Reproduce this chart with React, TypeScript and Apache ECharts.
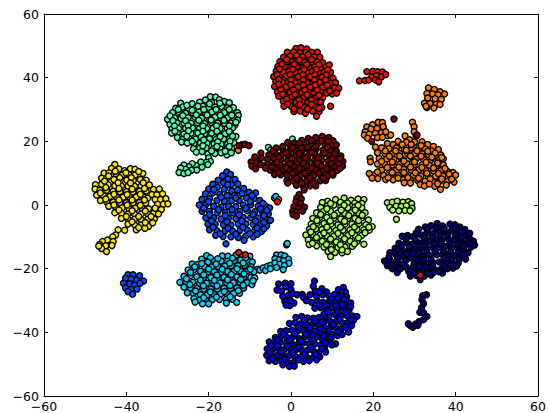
import React, { useEffect, useRef } from "react";
import * as echarts from "echarts";

type P = [number, number];

const navy: P[] = [
[35.5,-5.8],[34,-6.5],[32.6,-6.9],[31,-7.6],[30.4,-8.8],[36.8,-6.6],[38.6,-6],[39.8,-6.2],[41,-6.9],[42.2,-7.7],[43.4,-8.9],
[27,-9.8],[28.3,-9.6],[29.6,-10],[31.6,-9.4],[33,-8.6],[34.5,-9],[36,-8.3],[37.5,-8.6],[39,-8],[40.5,-8.7],[42,-9.6],[43.4,-10.6],[44.3,-11.4],
[26.2,-12],[27.8,-11.9],[29.2,-12.4],[30.7,-11.7],[32.2,-11.5],[33.7,-11.3],[35.2,-10.9],[36.7,-11],[38.2,-10.6],[39.7,-11],[41.2,-11.4],[42.7,-12],[44.6,-12.6],[43.7,-13.2],
[25.3,-13.6],[27,-14],[28.5,-14.6],[30,-14],[31.5,-13.8],[33,-13.7],[34.5,-13.4],[36,-13.3],[37.5,-13],[39,-13.4],[40.5,-13.5],[42,-14.2],[43,-15],
[24,-15],[25.6,-15.8],[27.2,-16.2],[29,-16.6],[30.7,-16.2],[32.3,-16],[33.8,-15.9],[35.4,-15.6],[36.8,-15.6],[38.3,-15.6],[39.8,-15.9],[41.2,-16.2],[42.4,-17],
[22.7,-17.6],[24,-17.2],[25.4,-18],[27,-18.6],[29.9,-18.4],[31.4,-18.2],[33,-18.4],[34.5,-18.1],[36,-17.9],[37.5,-18],[39,-18.2],[40.6,-18.3],
[23.4,-19],[24.6,-20],[26,-19.6],[25.8,-21.2],[30.2,-20.5],[31.8,-20.4],[33.4,-20.6],[35,-20.4],[36.5,-20.2],[38,-20],[39.3,-19.8],[36.8,-21.4],
[29,-22.3],[30.4,-22.1],[31.4,-23.4],[32.4,-22.3],[34,-22],[28.6,-20.9],
[32.9,-28.2],[32,-28.5],[31.8,-29.8],[32.2,-31],[31.7,-32.3],[31.3,-33.7],[32.2,-33.9],[33,-35],[32.2,-36],[31.2,-36.6],[30.3,-37.4],[29.6,-38.4],[29,-37.9],[28.5,-37.3],[30.8,-37.8]
];
const navyExtra: P[] = [
[33.2,-7.6],[35.2,-7.3],[37.2,-7.4],[40,-7.4],[41.7,-8.4],[28,-10.7],[30.1,-10.6],[32.4,-10.2],[34.2,-10.1],[36.2,-9.7],[38,-9.4],[39.9,-9.6],[41.4,-10.2],[43,-11.2],
[26.6,-13],[28.8,-13.2],[31,-12.7],[32.8,-12.5],[34.8,-12.2],[36.4,-12.2],[38.6,-12],[40.4,-12.3],[42,-12.9],[43.6,-12],
[25,-14.8],[26.5,-15.2],[28.2,-15.3],[29.6,-15.2],[31.2,-15],[33,-14.9],[35,-14.5],[37,-14.4],[38.8,-14.6],[40.6,-14.8],[41.8,-15.5],
[23.8,-16.3],[25.9,-17],[27.9,-17.4],[30.4,-17.3],[32.2,-17.2],[34,-17],[37.2,-16.8],[39,-17],[40.8,-17.2],
[24.9,-18.9],[26.6,-20],[28,-19.5],[29.7,-19.5],[31.2,-19.3],[32.8,-19.4],[34.4,-19.2],[37.2,-19.1],[38.9,-19.1],[40.2,-19.2],
[31.2,-21.3],[33,-21.4],[34.6,-21.2],[36,-21],[29.8,-21.4]
];

const blue: P[] = [
[-3,-24.8],[-1.4,-24.6],[0,-24.7],[-3.4,-26.7],[-2.3,-27],[-1.3,-25.7],[0,-26.6],[-2,-28.7],[-0.6,-28.3],[0.4,-27.8],[1.5,-28.2],[2.7,-28.1],[3,-29],[-1.5,-30.2],[-0.2,-29.9],[0.7,-30.8],[-0.3,-31.6],[-1.2,-31.4],
[5.7,-23.9],[5.4,-25.5],[5.9,-27],[7.5,-26.3],[8.6,-27.3],[12.7,-25.9],[11.5,-26.6],[13.2,-27.3],[4.6,-28.2],[6.2,-28.6],[7.7,-28.2],[9.2,-28.5],[10.6,-28.1],[12,-28.5],[13.5,-28.8],
[3.7,-30],[5,-30.6],[6.4,-30.2],[7.8,-30.6],[9.3,-30.3],[10.7,-30.5],[12.1,-30.2],[13.6,-30.5],[14.5,-30.8],
[5.8,-32.4],[7.2,-32.2],[8.6,-32.7],[10,-32.3],[11.4,-32.7],[12.9,-32.4],[14.1,-33],
[8,-34.3],[9.3,-34.8],[10.7,-34.4],[12.2,-34.7],[13.6,-34.8],[15,-34.9],[16,-35],[15.2,-36.2],
[1.2,-35.3],[2.6,-35],[4,-35.5],[5.4,-35.6],[6.8,-35.3],[8.2,-36.4],[9.6,-36.7],[11,-36.5],[12.4,-37],[13.8,-37],[14.7,-37.9],
[-0.4,-37.2],[1,-37],[2.4,-37.3],[3.8,-37.6],[5.2,-37.4],[6.6,-37.6],[8,-38.2],[9.4,-38.6],[10.8,-38.4],[12.1,-39],[14,-39.9],
[-2.5,-39.7],[-1.2,-39.5],[0.2,-39.3],[1.6,-39.6],[3,-39.4],[4.4,-39.8],[5.8,-39.6],[7.2,-40],[8.6,-40.4],[10,-40.6],[11.3,-41],[12.4,-40.7],
[-3.8,-41.6],[-2.4,-41.3],[-1,-41.6],[0.4,-41.5],[2,-42],[3.4,-41.4],[4.8,-41.7],[6.2,-41.5],[7.6,-42.2],[9.2,-42.5],[10.8,-43.6],[9.9,-43.9],
[-5.3,-43],[-4,-43.4],[-2.6,-43.1],[-1.2,-43.4],[0.2,-43.6],[1.6,-43.8],[3,-43.3],[4.4,-43.6],[5.8,-43.7],[7.2,-44],[8.2,-44.5],
[-5.8,-45.2],[-4.4,-45.3],[-3,-45.1],[-1.6,-45.4],[-0.2,-45.2],[1.2,-45.5],[2.6,-45.5],[4,-45.6],[5.4,-45.8],[6.7,-46.3],[8.4,-46.2],
[-5.9,-47.2],[-4.6,-47.4],[-3.2,-47.1],[-1.8,-47.5],[-0.4,-47.3],[1,-47.6],[2.4,-47.7],[3.8,-47.8],[5.4,-47.9],[7,-47.7],
[-5.3,-48.9],[-3.8,-49.1],[-2.4,-49],[-0.9,-49.3],[0.7,-49.4],[-2,-50.2],[-0.4,-50.7],[0.8,-50.6]
];
const blueExtra: P[] = [
[6.9,-27.4],[9.8,-29.4],[11.4,-29.3],[12.9,-29.6],[6.8,-31.4],[8.6,-31.4],[11,-31.6],[12.5,-31.3],[14.5,-31.9],[9,-33.5],[11.3,-33.5],[13.1,-33.6],[14.6,-36],
[3.3,-36.2],[5.9,-36.5],[7.6,-36.8],[10.3,-37.6],[11.8,-35.8],[13.2,-38.3],[1.7,-38.3],[4.6,-38.5],[7.2,-38.9],[9.2,-39.6],[11.5,-39.8],
[-1.8,-40.5],[0.9,-40.5],[3.7,-40.6],[5.3,-40.8],[7.9,-41.2],[9.8,-41.6],[-3.3,-42.3],[-0.3,-42.5],[2.5,-42.7],[5.3,-42.6],[8.5,-43.3],
[-4.8,-44.2],[-3.3,-44.2],[-0.9,-44.3],[1.9,-44.6],[4.8,-44.7],[7.5,-45.1],[-5,-46.3],[-2.4,-46.2],[0.4,-46.4],[3.3,-46.7],[6,-46.9],
[-4.4,-48.2],[-1.4,-48.4],[1.8,-48.6],[4.4,-48.9],[6.2,-48.6],[3,-49.1]
];

const azure: P[] = [
[-15.6,10.4],[-14.7,9.6],[-16.6,9.2],[-15.3,8.2],[-17.7,7.8],[-13.6,8],[-16.4,7],[-19,6.5],[-14.5,6.4],[-12.9,6.6],[-17.9,5.6],[-20,5],[-11.5,5.2],[-16.2,5],[-14.4,4.4],
[-20.8,3.5],[-19,3.8],[-17.3,3.4],[-15.5,3],[-13.7,3],[-11.9,3.6],[-10.2,4],[-8.6,3.8],[-21.6,1.8],[-19.8,2],[-18,1.4],[-16.2,1.2],[-14.4,1.4],[-12.6,1.5],[-10.8,2.2],[-9,2],[-7.6,1.4],
[-22.3,0],[-20.7,0.1],[-18.8,-0.4],[-17,-0.6],[-15.2,-0.4],[-13.4,-0.5],[-11.6,0],[-9.8,0.1],[-8,-0.3],[-6.2,-0.4],[-5.2,-0.9],[-4,2.2],
[-21.6,-2],[-19.8,-2],[-17.9,-2.4],[-16,-2.3],[-14.2,-2.4],[-12.4,-2],[-10.6,-1.8],[-8.8,-2.1],[-7,-2.2],[-5.5,-2.8],
[-20.7,-4],[-18.8,-4],[-17,-4.4],[-15.2,-4.2],[-13.4,-4.3],[-11.6,-3.9],[-9.8,-4],[-8,-4.1],[-6.2,-4.3],[-5,-4.8],
[-20.2,-6],[-18.4,-6],[-16.4,-6.2],[-14.6,-6.3],[-12.8,-6],[-11,-5.9],[-9.2,-6.1],[-7.4,-6.2],[-5.9,-6.5],
[-19.8,-7.8],[-18,-8.1],[-16,-8.1],[-14.2,-8.2],[-12.4,-8],[-10.6,-7.9],[-8.8,-8.1],[-7.2,-8.3],
[-18.3,-9.5],[-16.5,-9.9],[-14.6,-10],[-12.8,-10.2],[-11,-9.8],[-9.2,-10],[-11.4,-11.1],
[-15.8,-12.2],
[-39.6,-21.9],[-38.4,-21.9],[-36.8,-22.2],[-40.2,-23],[-38.8,-23.2],[-37.5,-23.6],[-35.8,-23.9],[-36.7,-24.6],[-40.7,-24.6],[-39.2,-24.8],[-38,-25.2],[-40.2,-26],[-38.8,-26.5],[-37.4,-26.4],[-39.6,-27.2],[-38.5,-28]
];
const azureExtra: P[] = [
[-15.4,6.4],[-18.7,4.9],[-13,4.7],[-9.5,3],[-20,1],[-17,2.4],[-13.4,2.2],[-9.9,1.1],[-6.8,0.5],[-21.2,-1],[-17.6,-1.4],[-14.3,-1.4],[-11,-1],[-7.4,-1.2],[-5.9,-1.7],
[-19.8,-3],[-16,-3.3],[-12.6,-3.1],[-9.2,-3],[-6.6,-3.3],[-19.3,-5],[-15.6,-5.3],[-12,-5],[-8.6,-5.1],[-6.6,-5.5],[-18.9,-7],[-15.3,-7.3],[-11.7,-7],[-8.2,-7.2],[-6.6,-7.5],
[-17.2,-9],[-13.4,-9.2],[-10,-9],[-8.2,-9.2]
];

const cyan: P[] = [
[-20.5,-15.9],[-19.6,-16.6],[-16.7,-16],[-15.3,-16.1],[-13.4,-15.8],[-11.8,-15.8],[-10,-16.1],
[-21.7,-17],[-20.2,-18],[-18.6,-17.7],[-17,-17.6],[-15.4,-17.7],[-13.8,-17.4],[-12.2,-17.3],[-10.6,-17.3],[-9.4,-17.9],
[-24,-18.5],[-22.7,-18.7],[-21,-19.3],[-19.3,-19.5],[-17.7,-19.3],[-16.1,-19.2],[-14.5,-19.1],[-12.9,-19.1],[-11.3,-19],[-9.7,-19.4],[-8.1,-20.2],
[-25,-20.4],[-23.5,-20.3],[-22,-20.8],[-20.2,-21],[-18.6,-21],[-17,-21.1],[-15.4,-20.9],[-13.8,-20.8],[-12.2,-20.8],[-10.6,-20.8],[-9,-21],
[-26,-22.4],[-24.5,-22.2],[-22.9,-22.5],[-21.2,-22.8],[-19.5,-22.8],[-17.9,-22.9],[-16.3,-22.7],[-14.7,-22.6],[-13.1,-22.6],[-11.5,-22.6],[-9.8,-22.8],[-8.8,-22.9],
[-27,-24.3],[-25.5,-24.1],[-23.9,-24.3],[-22.2,-24.6],[-20.5,-24.6],[-18.8,-24.7],[-17.2,-24.5],[-15.6,-24.4],[-14,-24.4],[-12.4,-24.3],[-10.7,-24.4],[-9.5,-25],
[-26,-25.8],[-24.5,-26],[-22.9,-26.2],[-21.2,-26.4],[-19.5,-26.4],[-17.9,-26.3],[-16.3,-26.2],[-14.7,-26.2],[-13.1,-26.1],[-11.5,-26.1],
[-25.2,-27.6],[-23.7,-27.8],[-22,-28.2],[-20.4,-28.3],[-18.7,-28.1],[-17.1,-28],[-15.5,-28],[-13.9,-27.8],[-12.5,-27.7],
[-23.6,-29.4],[-22.2,-29.9],[-20.7,-30],[-19.1,-29.7],[-17.4,-29.7],[-15.7,-29.6],[-14.2,-29.6],
[-23.3,-30.5],[-21.5,-31],[-20,-31],[-15.7,-30.8],[-13.2,-30.6],
[-7.6,-20.4],[-6.8,-19.8],[-6.2,-20.6],[-5.7,-19.2],[-4.9,-18.9],[-5,-20],
[-3.5,-15.7],[-2.4,-15.7],[-1.5,-16],[-0.6,-17],[-3.9,-16.9],[-2.8,-17.2],[-1.8,-17.5],[-0.5,-18.3],[-3.9,-18.2],[-2.7,-18.6],[-1.6,-19],[-3.5,-19.6],[-1.9,-20.3],
[-1.1,-12.5],[-0.9,-12.1],
[-3.7,2.7],[23.5,21.8]
];
const cyanExtra: P[] = [
[-17.8,-16.9],[-14.2,-16.7],[-11,-16.6],[-21.7,-18.4],[-18.2,-18.5],[-14.9,-18.3],[-11.6,-18.2],[-23.4,-19.4],[-20,-20.1],[-16.7,-20.2],[-13.1,-20],[-9.9,-20.2],
[-24.4,-21.2],[-21.2,-21.9],[-18,-22],[-14.5,-21.8],[-11.4,-21.6],[-25.4,-23.2],[-22,-23.6],[-18.6,-23.7],[-15.4,-23.5],[-12.2,-23.4],[-9.2,-23.8],
[-24.6,-25],[-21.3,-25.4],[-18,-25.4],[-14.8,-25.3],[-11.6,-25.2],[-23.2,-27],[-19.6,-27.3],[-16.2,-27.2],[-12.8,-26.9],[-21.2,-29.1],[-18.1,-28.9],[-14.8,-28.8]
];

const teal: P[] = [
[-19.6,34],[-18.3,33.9],[-20.8,33],[-17.4,33.1],[-16.2,32.5],[-22.2,32.3],[-26.8,32],[-24,31.8],[-19.3,32.2],[-15,32.1],
[-28,30.4],[-26.3,30.8],[-24.9,30.2],[-23.2,30.5],[-21.4,31],[-20,30.6],[-18.4,30.8],[-16.9,31],[-15.4,30.5],[-14,30.6],
[-28.8,29],[-27.2,29.2],[-25.6,28.8],[-23.9,29],[-22.4,29.2],[-20.9,29],[-19.2,29.2],[-17.7,29.2],[-16.2,29],[-14.7,29],[-13,29],[-12.8,28.1],
[-30,26.9],[-28.3,27.4],[-26.7,27.2],[-25,27.4],[-23.3,27.6],[-21.7,27.3],[-20.1,27.6],[-18.5,27.6],[-17,27.4],[-15.4,27.4],[-13.9,27.4],[-13,26.7],
[-29.4,25.3],[-27.7,25.8],[-26,25.7],[-24.3,25.7],[-22.7,25.8],[-21,25.6],[-19.4,25.9],[-17.8,25.7],[-16.2,25.7],[-14.6,25.7],[-13.6,25.1],
[-28.9,23.9],[-27.3,24],[-25.6,24.1],[-23.9,24.2],[-22.2,24],[-20.5,24],[-18.9,24.1],[-17.2,24],[-15.5,24],[-14.2,24.2],
[-29,22.6],[-27.6,22.6],[-26,22.3],[-24.3,22.5],[-22.6,22.6],[-21,22.4],[-19.3,22.5],[-17.6,22.4],[-16,22.4],[-14.6,22.3],
[-27.6,21.2],[-26.4,20.6],[-24.8,20.9],[-23.2,20.7],[-19.8,20.8],[-18.2,20.6],[-16.4,20.7],[-14.9,20.8],[-13.4,21.5],
[-26.6,19.8],[-25.2,19.5],[-23.6,19.2],[-22,19.5],[-20.4,19.4],[-18.7,19.2],[-17,19.1],[-15.4,19.2],[-13.9,19.6],
[-23.7,17.7],[-22.2,17.8],[-20.6,17.9],[-18.9,17.7],[-17.2,17.6],[-15.7,17.5],[-14.4,17.7],
[-23,16.6],[-21.6,16.8],[-20.2,16],[-18.5,16.2],[-17,16.4],[-15.6,15.8],[-14.5,16.4],
[-20,14.8],[-19.6,13.7],[-20.6,13.4],[-20.2,12.7],[-21.9,13.5],[-23.1,12.4],[-24,13],[-24.8,12],[-26,12.6],[-21.6,11.9],[-22.9,11],[-24.2,10.9],[-25.6,11.2],[-26.8,11.6],[-27.2,10.2],[-26,9.9],[-25,10.2],
[-5.5,18.1],[-4.9,17.3],[0.35,20.7]
];
const tealExtra: P[] = [
[-25.3,31.3],[-22.6,31],[-19.8,31.8],[-17.3,32],[-27.4,30],[-24,29.8],[-21.2,30],[-18.2,30],[-15,30],[-29.4,28],[-26.3,28.1],[-23,28.3],[-20.4,28.3],[-17.2,28.2],[-14.4,28.2],
[-28.7,26.5],[-25.6,26.5],[-22.4,26.6],[-19.4,26.7],[-16.3,26.6],[-13.4,26],[-28.3,24.8],[-25,24.9],[-21.4,24.8],[-18.1,24.9],[-15,24.9],[-28.2,23.2],[-24.9,23.3],[-21.4,23.2],[-18,23.2],[-15,23.1],
[-25.3,21.6],[-21.8,21.4],[-17.2,21.5],[-14.2,21.6],[-24,20],[-21.2,20.4],[-17.8,19.9],[-14.8,20],[-21.4,18.6],[-18,18.4],[-15,18.4],[-19.3,17],[-16,16.9]
];

const lime: P[] = [
[12.9,2.2],[10.8,1.7],[8.9,1.2],[7.6,0.8],[14.6,1.5],[16.3,1.9],[17.7,1.7],[12,0.9],[13.7,0.6],[15.5,0.6],[17.2,0.5],
[7.2,-0.8],[8.8,-0.3],[10.4,0],[12.1,-0.8],[13.8,-0.9],[15.5,-0.7],[17.2,-0.9],
[6.2,-2.4],[7.9,-2],[9.6,-2],[11.3,-2.5],[13,-2.6],[14.7,-2.4],[16.4,-2.5],[18,-2.4],
[5.3,-4.2],[7,-3.9],[8.7,-3.9],[10.4,-4.2],[12.1,-4.4],[13.8,-4.2],[15.5,-4.2],[17.2,-4],[18.8,-4.7],
[4.9,-6],[6.3,-5.7],[8,-5.8],[9.7,-6],[11.4,-6.2],[13.1,-6],[14.8,-6],[16.5,-5.8],[18.2,-6.2],[19.7,-6.8],
[4.5,-7.6],[6,-7.5],[7.5,-7.7],[9.2,-7.9],[10.9,-8],[12.6,-7.9],[14.3,-7.8],[16,-7.7],[17.7,-7.8],[19,-7.9],
[3.6,-9.4],[5.3,-9.3],[7,-9.5],[8.7,-9.7],[10.4,-9.8],[12.1,-9.7],[13.8,-9.6],[15.5,-9.5],[17.2,-9.5],
[4.2,-11],[5.9,-11.1],[7.6,-11.4],[9.3,-11.5],[11,-11.6],[12.7,-11.5],[14.4,-11.4],[16.1,-11.3],[17.7,-12.3],
[4.4,-12.4],[6.2,-12.8],[8,-13.2],[9.7,-13.1],[11.4,-13.4],[13.1,-13.2],[14.9,-13],[9,-14.6],[10.7,-14.9],[12.4,-15],[13.7,-14.6],[9.6,-16.2],
[23.4,0.7],[24.6,0.9],[25.8,1.2],[27.2,0.9],[28.5,1],[29.3,0.4],[24,-0.7],[25.5,-0.4],[26.8,-0.5],[28,-0.2],[29.4,-1],[24.7,-1.6],[26.2,-1.8],[27.7,-1.7],[28.9,-1.8],[25.6,-4.5]
];
const limeExtra: P[] = [
[9.6,0.5],[12.9,-0.1],[16.3,-0.1],[8.7,-1.2],[12.2,-1.6],[15.6,-1.6],[7.2,-3],[10.5,-3.2],[14,-3.3],[17.3,-3.2],[6.3,-4.9],[9.5,-5],[13,-5.1],[16.4,-4.9],
[5.4,-6.8],[8.7,-6.9],[12,-7],[15.4,-6.9],[18.9,-7],[4.8,-8.5],[8,-8.8],[11.4,-8.9],[14.8,-8.7],[18,-8.7],[6.2,-10.2],[9.6,-10.7],[13,-10.6],[16.4,-10.4],
[5.2,-12],[8.6,-12.4],[12,-12.5],[15.4,-12.2],[9.8,-14],[12.4,-14.1]
];

const yellow: P[] = [
[-42.8,12.7],[-43.6,11.5],[-41.8,11.3],[-40.4,10.8],[-39,11.4],[-37.9,11.2],[-45.4,10],[-44.2,10.1],[-42.5,9.7],[-41,9.4],[-39.4,9.6],[-37.9,9.4],[-36,9.9],
[-46,8.4],[-44.8,8.4],[-43,8],[-41.5,7.7],[-39.9,7.8],[-38.3,7.7],[-36.6,8],[-35.2,7.8],
[-47.5,6.4],[-46,6.5],[-44.4,6.4],[-42.8,6],[-41.2,6],[-39.6,5.9],[-38,5.9],[-36.4,6],[-34.4,6.3],
[-47.6,5],[-46.4,4.6],[-44.8,4.6],[-43.2,4.3],[-41.6,4.2],[-40,4.2],[-38.4,4.1],[-36.8,4.3],[-35.2,4.4],
[-47.2,3.1],[-45.6,2.9],[-44,2.7],[-42.4,2.5],[-40.8,2.4],[-39.2,2.4],[-37.6,2.5],[-36,2.6],[-34.8,2.2],
[-46.3,1.4],[-44.8,1],[-43.2,0.9],[-41.6,0.8],[-40,0.7],[-38.4,0.7],[-36.8,0.8],[-35.3,0.6],
[-44.3,-0.4],[-42.6,-0.7],[-41,-0.9],[-39.4,-1],[-37.8,-1],[-36.2,-1],[-34.6,-1.2],
[-42.8,-2.4],[-41.2,-2.6],[-39.6,-2.8],[-38,-2.8],[-36.4,-2.8],[-34.8,-2.8],[-33.4,-2.6],
[-41.2,-4.2],[-39.6,-4.5],[-38,-4.5],[-36.4,-4.6],[-34.8,-4.5],[-33.2,-4.4],
[-39.6,-6],[-38,-6.2],[-36.4,-6.3],[-34.6,-6.7],[-37.6,-7.8],[-35.5,-7.3],
[-33.4,4.9],[-32,5],[-33.8,3.3],[-32.6,3.2],[-31.2,3.5],[-33,1.7],[-31.7,1.7],[-30.4,2],[-32.4,0.2],[-31,0.2],[-29.9,0.4],[-33,-1],[-31.5,-1.4],[-32.2,-2.8],
[-42,-7.8],[-40.4,-7.9],[-42.6,-9.4],[-43.3,-10],[-43.2,-11.5],[-44.6,-11],[-45.8,-11.5],[-46.5,-12.4],[-45,-12.8],[-43.5,-12.7],[-46,-13.7],[-44.8,-14.6],[-46.7,-12.9]
];
const yellowExtra: P[] = [
[-42.7,10.6],[-40.1,10.1],[-37,10.5],[-44.3,9.1],[-41.6,8.6],[-38.8,8.6],[-45.3,7.5],[-42,7],[-39,6.9],[-35.9,7],[-45,5.5],[-41.8,5.2],[-38.6,5],[-35.6,5.2],
[-46.3,3.8],[-43,3.4],[-39.8,3.3],[-36.6,3.4],[-45,1.9],[-41.8,1.6],[-38.6,1.6],[-35.6,1.6],[-43,0],[-39.8,0],[-36.6,-0.1],[-41.8,-1.6],[-38.6,-1.8],[-35.4,-1.9],
[-40,-3.6],[-37,-3.6],[-34,-3.6],[-38.6,-5.3],[-35.4,-5.5],[-33.6,-5.6],[-37,-7.1]
];

const orange: P[] = [
[29.5,26],[29.9,24.6],[29.9,23],[24.2,22],[30.4,21.6],[27.7,21.7],[28.8,20.5],
[26,20],[28,19.7],[30,19.8],[31.8,19.9],[33.2,19],[34.6,18.4],[24.8,19],[23.4,19.3],
[20.5,18.2],[22,18],[23.8,17.7],[25.6,17.9],[27.4,18],[29.2,18],[31,17.9],[32.6,17.6],[34.2,17],[35.8,17.4],
[19.2,14.7],[21,16.4],[22.8,16.2],[24.6,16.1],[26.4,16.2],[28.2,16.3],[30,16.1],[31.8,16.1],[33.4,15.8],[35.2,15.6],[36.4,15.7],
[21.4,14.6],[23.2,14.4],[25,14.3],[26.8,14.6],[28.6,14.6],[30.4,14.4],[32.2,14.3],[34,14.2],[35.8,14],[37,14.5],
[19.3,13.6],[21,12.9],[22.8,12.7],[24.6,12.6],[26.4,12.8],[28.2,12.9],[30,12.7],[31.8,12.6],[33.6,12.5],[35.4,12.4],[37,12.6],
[22,11],[23.8,11],[25.6,11],[27.4,11.2],[29.2,11],[31,11],[32.8,10.8],[34.6,10.7],[36.4,10.8],[38,10.5],[39.3,10.2],
[19,9.9],[20.5,9.7],[22.5,9.3],[24.3,9.3],[26.1,9.3],[27.9,9.4],[29.7,9.3],[31.5,9.2],[33.3,9],[35.1,9],[36.9,9.1],[38.7,8.9],[40,9.4],
[19.7,8.5],[21.1,8.3],[23,8],[24.8,7.9],[27.2,8],[29,7.9],[30.8,7.7],[32.6,7.5],[34.4,7.4],[36.2,7.5],[38,7.4],[39.6,7.2],
[27.5,7],[31.4,6.4],[32.4,6],[34.9,5.9],[36.3,4.9],[37.7,6.3],
[18.4,24.5],[19.8,25.2],[21.2,26],[22.2,25.9],[18,23],[19.4,23.9],[20.9,24],[22.4,24.6],[17.8,22],[19,22.2],[20.5,22.5],[22,22.7],[23,23],[18.6,21],[21,21.2],[22.2,21.3],
[33.4,36.8],[34.8,36.3],[36.2,35.6],[33,35],[34.4,34.9],[35.7,34.6],[37.3,34.9],[33.2,33.6],[35,33.4],[36.5,33.2],[32.4,32],[33.8,31.9],[35.2,31.6],[36.2,31.6],[33,30.6],[34.7,30.5],[32.8,31],
[-12.8,17.2],[-3,1.7]
];
const orangeExtra: P[] = [
[27,19],[29.2,19],[31.6,18.7],[22.9,17],[25.4,17],[28,17.2],[30.6,17],[33.2,16.9],[35,16.3],[23.9,15.3],[26.4,15.4],[29,15.4],[31.6,15.3],[34.2,15],[36.6,14.9],
[22,13.7],[24.6,13.5],[27.4,13.8],[30,13.6],[32.8,13.4],[35.6,13.2],[23.4,11.8],[26.2,11.9],[29,11.9],[31.8,11.8],[34.6,11.6],[37.4,11.5],
[21,10.4],[24.6,10.2],[27.4,10.2],[30.2,10.1],[33,10],[35.8,9.9],[38.4,9.7],[23.6,8.6],[26,8.5],[28.4,8.6],[31,8.4],[33.8,8.2],[36.6,8.2],[39,8.1],[33.6,6.6],[35.6,6.7],[29,6.9]
];

const red: P[] = [
[1.2,49.2],[2.4,49.4],[3.8,49],
[-0.9,48],[0.6,48.1],[2.1,47.8],[3.6,47.9],[5,48],[6.4,48],
[-1.8,46.4],[-0.2,46.7],[1.3,46.3],[2.8,46.5],[4.2,46.4],[5.6,46.5],[7,46.4],
[-2.7,45],[-1,45],[0.4,45],[2,44.7],[3.3,44.9],[4.9,44.8],[6.3,44.9],[7.7,44.7],
[-3.2,43.5],[-1.6,43.4],[0,43.3],[1.4,43.5],[2.9,43.2],[4.3,43.5],[5.8,43.4],[7.1,43],[8.5,43.4],[9.3,44],
[-3.6,42],[-2,41.8],[-0.5,42],[1,41.7],[2.4,41.9],[3.9,41.6],[5.2,41.9],[6.7,41.6],[8.1,41.7],[9.6,41.7],
[-4.2,40.3],[-2.7,40.1],[-1.1,40.5],[0.3,40],[1.8,40.3],[3.3,40],[4.7,40.3],[6.2,40],[7.6,40.2],[9,40],[10.2,39.8],
[-3.7,38.8],[-2.1,38.6],[-0.6,38.7],[0.9,38.5],[2.4,38.7],[3.9,38.4],[5.4,38.6],[6.9,38.5],[8.4,38.6],[9.8,38.3],[10.8,38.4],
[-4,37.2],[-2.7,37],[-1.2,37.1],[0.2,36.9],[1.7,37.1],[3.2,36.9],[4.7,37],[6.2,36.9],[7.7,37],[9.2,36.7],[10.6,36.9],[11.6,36.7],
[-3.3,35.5],[-1.8,35.6],[-0.3,35.3],[1.2,35.5],[2.7,35.3],[4.2,35.4],[5.7,35.2],[7.2,35.4],[8.7,35.2],[10,34.9],[11.1,35.2],
[-3,34.2],[-1.4,34],[0.2,33.9],[1.7,33.7],[3.2,33.9],[4.7,33.7],[6.2,33.9],[7.7,33.7],
[-1.9,32.6],[-0.3,32.5],[1.2,32.3],[2.7,32.4],[4.2,32.2],[5.7,32.4],[7.2,32.3],
[-1.7,31],[0,31],[1.5,30.9],[3,30.7],[4.5,30.8],[6,30.8],[7.5,30.6],[9.6,31],
[1,29.7],[0.7,29.4],[2.2,29.5],[3.6,29.4],[5.2,29.5],[6.8,29.3],
[3.5,28.8],[6.2,27.9],
[16.6,39],[18,39.1],[18.9,39.3],[19.7,40.5],[18.4,41.9],[19.9,42],[21,41.9],[22.2,41.8],[20.8,40.6],[22,40.3],[23,41],[20.5,39.3],[21.3,38.7],
[-12.7,-14.9],[-11.1,-15.6],[-3.3,1],[31.4,-22.1]
];
const redExtra: P[] = [
[1.4,47],[4.2,47.2],[-1,45.7],[2,45.6],[5,45.7],[-2.2,44.2],[0.8,44.2],[3.8,44.1],[6.8,44.1],[-2.8,42.7],[0.4,42.6],[3.2,42.6],[6.2,42.6],[8.9,42.5],
[-3.4,41],[-0.2,41],[2.9,40.9],[5.8,41],[8.6,40.9],[-3,39.4],[0,39.3],[3,39.3],[5.7,39.3],[8.4,39.3],[-3,37.9],[0,37.8],[3,37.7],[5.9,37.7],[8.8,37.6],
[-2.4,36.2],[0.6,36.2],[3.4,36.1],[6.4,36.1],[9.4,35.9],[-2,34.8],[1,34.7],[3.9,34.6],[6.8,34.5],[-1,33.2],[2,33],[5,33],[-0.8,31.7],[2.2,31.6],[5,31.6],[0.8,30.2],[4,30.1],[6.8,30.4]
];

const darkRed: P[] = [
[7.6,21.5],[6,21.2],[4.2,20.9],[2.6,20.3],[9.2,21.2],[10.2,20.2],
[0.8,19.5],[-0.8,19.6],[-0.1,18.5],[1.6,18.5],[3.2,19],[4.9,19.2],[6.6,19.4],[8.3,19],[10,18.7],[11,18.9],
[-3.6,17.9],[-2,17.4],[-0.4,17],[1.2,17],[2.8,17.2],[4.4,17.4],[6.1,17.6],[7.8,17.3],[9.5,17.2],[11,17],
[-5.4,15.7],[-3.8,16.1],[-2.2,15.8],[-0.6,15.4],[1,15.4],[2.6,15.5],[4.2,15.6],[5.9,15.8],[7.6,15.7],[9.3,15.5],[11,15.4],[12.1,15.4],
[-5.7,14.3],[-4,14.4],[-2.4,14.2],[-0.8,13.9],[0.8,13.8],[2.4,13.9],[4,14],[5.7,14.1],[7.4,14],[9.1,13.9],[10.8,13.8],[12.6,13.7],
[-5.7,12.8],[-4.2,12.8],[-2.6,12.6],[-1,12.3],[0.6,12.3],[2.2,12.3],[3.8,12.4],[5.5,12.5],[7.2,12.4],[8.9,12.3],[10.6,12.2],[12.5,12.2],
[-5.1,11],[-3.6,11.2],[-2,11],[-0.4,10.8],[1.2,10.7],[2.8,10.8],[4.4,10.8],[6.1,10.9],[7.8,10.8],[9.5,10.7],[11.2,10.8],
[-4,9.6],[-2.5,9.5],[-0.9,9.3],[0.7,9.2],[2.3,9.2],[3.9,9.2],[5.6,9.3],[7.3,9.2],[9,9.2],[10.2,9.4],
[-1,7.7],[0.5,7.6],[2.1,7.6],[3.7,7.5],[5.4,7.6],[7.1,7.6],[8.4,7.7],
[-0.8,6.9],[1.3,6.2],[2.9,6],[4.6,6],[6,6],[3.2,4.8],
[-7.3,16.3],[-8.8,15.1],[-7.2,14.8],[-9.7,13.5],[-8.4,13.3],[-9.5,12.2],[-8.6,11.4],[-7.4,12.7],[-6.2,11.6],
[-12,18.9],[-11.2,19.1],[-10.2,18.7],[-12.6,18.7],
[2,3.3],[1.4,2.2],[2.5,1.9],[1.2,1],[2.3,0.5],[3.3,-0.7],[0.7,-0.5],[1.9,-1],[0.4,-2],[1.4,-2.2],[2.8,-1.9],[0.5,-3],[1.3,-3.5],
[25,27],[30.6,22],[19.6,20]
];
const darkRedExtra: P[] = [
[5,20.3],[7.4,20.2],[9,20],[2,19.3],[4,18.2],[6,18.4],[8.8,18.2],[-2,18.4],[0.4,18],[2.6,18],[-4.4,16.9],[-1.2,16.4],[2,16.2],[5,16.5],[8.2,16.3],[10.6,16.2],
[-3,15],[0.2,14.6],[3.4,14.7],[6.6,14.8],[10,14.6],[12,14.5],[-3.4,13.4],[-0.2,13],[3,13.1],[6.4,13.2],[9.8,13],[11.6,13],
[-4.6,11.9],[-1.2,11.6],[2,11.5],[5,11.6],[8.6,11.5],[11.9,11.5],[-3,10.2],[0.4,10],[3.4,10],[6.8,10],[10,10],[1.4,8.4],[4.6,8.4],[7.8,8.4],[2.6,6.8],[5.4,6.8]
];

const seriesData: { name: string; color: string; points: P[] }[] = [
  { name: "0", color: "#00007f", points: [...navy, ...navyExtra] },
  { name: "1", color: "#0000f1", points: [...blue, ...blueExtra] },
  { name: "2", color: "#004cff", points: [...azure, ...azureExtra] },
  { name: "3", color: "#00d5ff", points: [...cyan, ...cyanExtra] },
  { name: "4", color: "#4bffac", points: [...teal, ...tealExtra] },
  { name: "5", color: "#a6ff51", points: [...lime, ...limeExtra] },
  { name: "6", color: "#ffe600", points: [...yellow, ...yellowExtra] },
  { name: "7", color: "#ff7d00", points: [...orange, ...orangeExtra] },
  { name: "8", color: "#f10f00", points: [...red, ...redExtra] },
  { name: "9", color: "#7f0000", points: [...darkRed, ...darkRedExtra] },
];

const axisMin = -60;
const axisMax = 60;
const tickStep = 20;

const labelFmt = (v: number) => String(v).replace("-", "\u2212");
const base = {
  min: axisMin,
  max: axisMax,
  interval: tickStep,
  type: "value" as const,
  splitLine: { show: false },
  axisLine: { show: true, onZero: false, lineStyle: { color: "#000", width: 1 } },
  axisTick: { show: true, inside: true, length: 4, lineStyle: { color: "#000", width: 1 } },
};
const labelStyle = { color: "#000", fontFamily: "DejaVu Sans", fontSize: 12.5, formatter: labelFmt };

export default function App() {
  const ref = useRef<HTMLDivElement>(null);
  useEffect(() => {
    if (!ref.current) return;
    const chart = echarts.init(ref.current, undefined, { renderer: "svg" });
    chart.setOption({
      animation: false,
      backgroundColor: "#fff",
      grid: { left: 44, right: 9, top: 14, bottom: 16, containLabel: false },
      xAxis: [
        { ...base, position: "bottom", axisLabel: { ...labelStyle, margin: 4, showMinLabel: true, showMaxLabel: true } },
        { ...base, position: "top", axisLabel: { show: false } },
      ],
      yAxis: [
        { ...base, position: "left", axisLabel: { ...labelStyle, margin: 5, showMinLabel: true, showMaxLabel: true } },
        { ...base, position: "right", axisLabel: { show: false } },
      ],
      series: seriesData.map((s) => ({
        name: s.name,
        type: "scatter",
        data: s.points,
        symbol: "circle",
        symbolSize: 6,
        large: false,
        itemStyle: { color: s.color, borderColor: "#000", borderWidth: 1.4, opacity: 1 },
        silent: true,
      })),
    });
    return () => chart.dispose();
  }, []);
  return <div ref={ref} style={{ position: "absolute", left: 0, top: 0, width: 549, height: 413 }} />;
}
